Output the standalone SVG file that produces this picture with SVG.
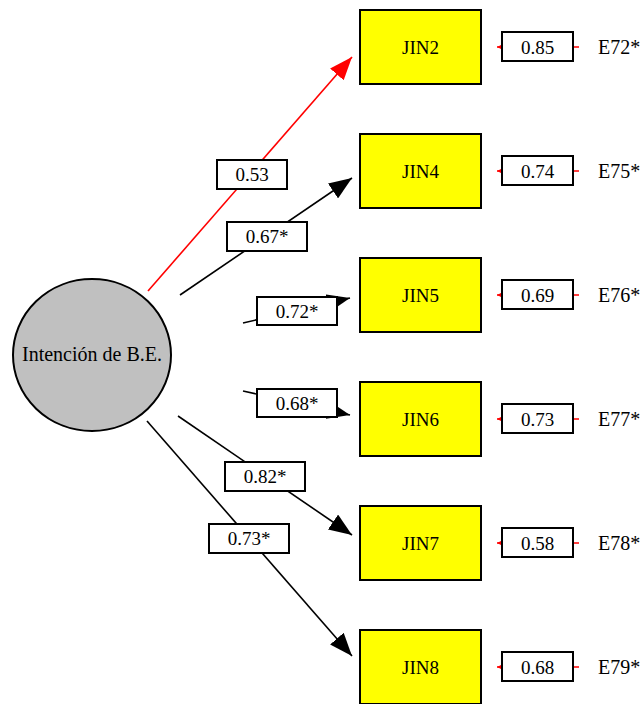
<svg xmlns="http://www.w3.org/2000/svg" width="643" height="704" viewBox="0 0 643 704">
<defs>
<style>
.t{font-size:19px;fill:#000;text-anchor:middle}
.e{font-size:20px;fill:#000}
.obs{fill:#ffff00;stroke:#000;stroke-width:2}
.lab{fill:#fff;stroke:#000;stroke-width:2}
.ln{stroke:#000;stroke-width:1.6;fill:none;marker-end:url(#ab)}
.lr{stroke:#ff0000;stroke-width:1.6;fill:none;marker-end:url(#ar)}
.er{stroke:#ff0000;stroke-width:1.5;fill:none;marker-end:url(#as)}
</style>
<marker id="ab" markerUnits="userSpaceOnUse" markerWidth="23" markerHeight="18" refX="23" refY="9" orient="auto"><path d="M0,0 L23,9 L0,18 z" fill="#000"/></marker>
<marker id="ar" markerUnits="userSpaceOnUse" markerWidth="23" markerHeight="18" refX="23" refY="9" orient="auto"><path d="M0,0 L23,9 L0,18 z" fill="#ff0000"/></marker>
<marker id="as" markerUnits="userSpaceOnUse" markerWidth="6" markerHeight="6" refX="6" refY="3" orient="auto"><path d="M0,0 L6,3 L0,6 z" fill="#ff0000"/></marker>
</defs>
<rect width="643" height="704" fill="#fff"/>
<g id="connectors">
<line class="lr" x1="148" y1="291" x2="352" y2="57"/>
<line class="ln" x1="180" y1="295" x2="352" y2="178"/>
<line class="ln" x1="243" y1="323" x2="350" y2="298"/>
<line class="ln" x1="243" y1="391" x2="350" y2="415"/>
<line class="ln" x1="178" y1="416" x2="352" y2="535"/>
<line class="ln" x1="147" y1="421" x2="352" y2="656"/>
<line class="er" x1="579" y1="47" x2="497" y2="47"/>
<line class="er" x1="579" y1="171" x2="497" y2="171"/>
<line class="er" x1="579" y1="295" x2="497" y2="295"/>
<line class="er" x1="579" y1="419" x2="497" y2="419"/>
<line class="er" x1="579" y1="543" x2="497" y2="543"/>
<line class="er" x1="579" y1="667" x2="497" y2="667"/>
</g>
<g font-family="Liberation Serif, Times New Roman, DejaVu Serif, serif">
<g id="labels">
<g id="l-jin2"><rect class="lab" x="217" y="160" width="70" height="29"/><text class="t" x="252" y="181">0.53</text></g>
<g id="l-jin4"><rect class="lab" x="227" y="222" width="80" height="29"/><text class="t" x="267" y="243">0.67*</text></g>
<g id="l-jin5"><rect class="lab" x="257" y="297" width="80" height="28"/><text class="t" x="297" y="318">0.72*</text></g>
<g id="l-jin6"><rect class="lab" x="257" y="389" width="80" height="28"/><text class="t" x="297" y="410">0.68*</text></g>
<g id="l-jin7"><rect class="lab" x="225" y="462" width="80" height="29"/><text class="t" x="265" y="483">0.82*</text></g>
<g id="l-jin8"><rect class="lab" x="209" y="524" width="80" height="29"/><text class="t" x="249" y="545">0.73*</text></g>
</g>
<g id="factor">
<ellipse cx="92" cy="355" rx="79" ry="76" fill="#c0c0c0" stroke="#000" stroke-width="2"/>
<text class="t" x="92" y="361" style="font-size:20px">Intención de B.E.</text>
</g>
<g id="jin2"><rect class="obs" x="360" y="10" width="121" height="74"/><text class="t" x="420.5" y="54">JIN2</text></g>
<g id="jin4"><rect class="obs" x="360" y="134" width="121" height="74"/><text class="t" x="420.5" y="178">JIN4</text></g>
<g id="jin5"><rect class="obs" x="360" y="258" width="121" height="74"/><text class="t" x="420.5" y="302">JIN5</text></g>
<g id="jin6"><rect class="obs" x="360" y="382" width="121" height="74"/><text class="t" x="420.5" y="426">JIN6</text></g>
<g id="jin7"><rect class="obs" x="360" y="506" width="121" height="74"/><text class="t" x="420.5" y="550">JIN7</text></g>
<g id="jin8"><rect class="obs" x="360" y="630" width="121" height="74"/><text class="t" x="420.5" y="674">JIN8</text></g>
<g id="e72"><rect class="lab" x="502" y="32" width="71" height="29"/><text class="t" x="537.5" y="53.5">0.85</text><text class="e" x="598" y="54">E72*</text></g>
<g id="e75"><rect class="lab" x="502" y="156" width="71" height="29"/><text class="t" x="537.5" y="177.5">0.74</text><text class="e" x="598" y="178">E75*</text></g>
<g id="e76"><rect class="lab" x="502" y="280" width="71" height="29"/><text class="t" x="537.5" y="301.5">0.69</text><text class="e" x="598" y="302">E76*</text></g>
<g id="e77"><rect class="lab" x="502" y="404" width="71" height="29"/><text class="t" x="537.5" y="425.5">0.73</text><text class="e" x="598" y="426">E77*</text></g>
<g id="e78"><rect class="lab" x="502" y="528" width="71" height="29"/><text class="t" x="537.5" y="549.5">0.58</text><text class="e" x="598" y="550">E78*</text></g>
<g id="e79"><rect class="lab" x="502" y="652" width="71" height="29"/><text class="t" x="537.5" y="673.5">0.68</text><text class="e" x="598" y="674">E79*</text></g>
</g>
</svg>
